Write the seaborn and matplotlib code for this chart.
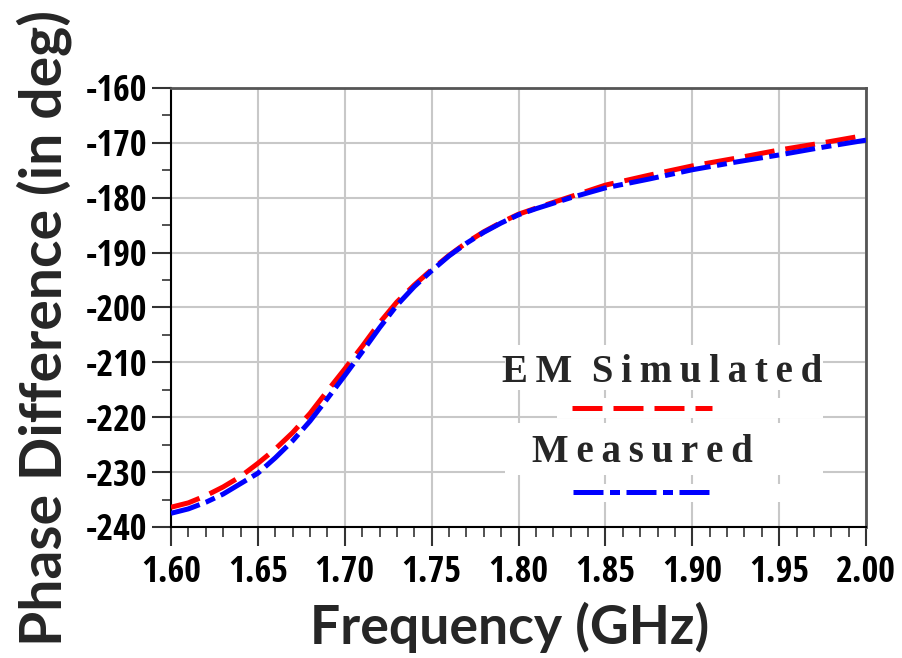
import numpy as np
import pandas as pd
import matplotlib
matplotlib.use("Agg")
import matplotlib.pyplot as plt
from matplotlib.ticker import MultipleLocator, FormatStrFormatter
from matplotlib.lines import Line2D
from matplotlib.patches import Rectangle
import seaborn as sns

# Phase difference vs frequency
freq_sim = [1.600, 1.610, 1.620, 1.630, 1.640, 1.650, 1.660, 1.670, 1.680, 1.690,
            1.700, 1.710, 1.720, 1.730, 1.740, 1.750, 1.760, 1.770, 1.780, 1.790,
            1.800, 1.810, 1.830, 1.850, 1.875, 1.900, 1.925, 1.950, 1.975, 2.000]
phase_sim = [-236.4, -235.6, -234.3, -232.7, -230.8, -228.4, -225.8, -222.8, -219.3, -215.2,
             -211.2, -207.1, -202.8, -199.0, -195.9, -193.1, -190.5, -188.2, -186.2, -184.5,
             -183.0, -181.9, -179.8, -177.7, -175.9, -174.2, -172.8, -171.3, -170.0, -168.6]
freq_meas = [1.600, 1.610, 1.620, 1.630, 1.640, 1.650, 1.660, 1.670, 1.680, 1.690,
             1.700, 1.710, 1.720, 1.730, 1.740, 1.750, 1.760, 1.770, 1.780, 1.790,
             1.800, 1.810, 1.830, 1.850, 1.875, 1.900, 1.925, 1.950, 1.975, 2.000]
phase_meas = [-237.5, -236.7, -235.5, -234.0, -232.1, -230.2, -227.4, -224.3, -220.7, -216.6,
              -212.4, -208.1, -203.7, -199.6, -196.2, -193.3, -190.6, -188.3, -186.3, -184.6,
              -183.1, -182.0, -180.0, -178.2, -176.6, -174.9, -173.5, -172.2, -170.8, -169.5]

x_ticks = [1.60, 1.65, 1.70, 1.75, 1.80, 1.85, 1.90, 1.95, 2.00]
y_ticks = [-240, -230, -220, -210, -200, -190, -180, -170, -160]

sim_label = "E\u2009M  S\u2009i\u2009m\u2009u\u2009l\u2009a\u2009t\u2009e\u2009d"
meas_label = "M\u2009e\u2009a\u2009s\u2009u\u2009r\u2009e\u2009d"

sns.set_theme(style="white")
plt.rcParams["font.family"] = ["Open Sans Condensed", "DejaVu Sans"]
plt.rcParams["axes.unicode_minus"] = False

fig = plt.figure(figsize=(9.03, 6.58), dpi=100)
ax = fig.add_axes([171 / 903, 1 - 527 / 658, 695 / 903, 439 / 658])

df_sim = pd.DataFrame({"f": freq_sim, "p": phase_sim})
df_meas = pd.DataFrame({"f": freq_meas, "p": phase_meas})

sim_dash = (6, 2.2)
meas_dash = (6, 1.3, 2, 1.3)

sns.lineplot(data=df_sim, x="f", y="p", ax=ax, color="#ff0000", lw=3.6, zorder=3)
ax.lines[-1].set_dashes(sim_dash)
sns.lineplot(data=df_meas, x="f", y="p", ax=ax, color="#0000ff", lw=3.6, zorder=4)
ax.lines[-1].set_dashes(meas_dash)

ax.set_xlim(1.60, 2.00)
ax.set_ylim(-240, -160)
ax.set_xticks(x_ticks)
ax.set_yticks(y_ticks)
ax.xaxis.set_major_formatter(FormatStrFormatter("%.2f"))
ax.yaxis.set_major_formatter(FormatStrFormatter("%d"))
ax.xaxis.set_minor_locator(MultipleLocator(0.01))
ax.yaxis.set_minor_locator(MultipleLocator(5))

ax.grid(True, which="major", color="#c8c8c8", lw=1.5, zorder=0)
ax.set_axisbelow(True)

for side in ["left", "bottom"]:
    ax.spines[side].set_color("black")
    ax.spines[side].set_linewidth(1.5)
for side in ["top", "right"]:
    ax.spines[side].set_color("#555555")
    ax.spines[side].set_linewidth(2)

ax.tick_params(axis="x", which="major", direction="out", length=14, width=1.5,
               color="#333333", labelsize=26, labelcolor="black", pad=6, bottom=True)
ax.tick_params(axis="x", which="minor", direction="out", length=7, width=1.2,
               color="#333333", bottom=True)
ax.tick_params(axis="y", which="major", direction="out", length=13.5, width=1.5,
               color="#333333", labelsize=26, labelcolor="black", pad=3.5, left=True)
ax.tick_params(axis="y", which="minor", direction="out", length=6.5, width=1.2,
               color="#333333", left=True)
for lab in ax.get_xticklabels() + ax.get_yticklabels():
    lab.set_fontweight("bold")

ax.set_xlabel("Frequency (GHz)", fontsize=38.5, fontweight="bold",
              family=["Lato", "DejaVu Sans"], va="center")
ax.xaxis.set_label_coords(0.487, -0.228)
ax.set_ylabel("Phase Difference (in deg)", fontsize=41, fontweight="bold",
              family=["Lato", "DejaVu Sans"], va="center")
ax.yaxis.set_label_coords(-0.183, 0.453)

# Legend block: white panels behind each entry, text above its line sample
for x0, y0, w, h in [(0.481, 0.312, 0.457, 0.103),
                     (0.555, 0.248, 0.383, 0.046),
                     (0.481, 0.118, 0.457, 0.119),
                     (0.555, 0.057, 0.383, 0.041)]:
    ax.add_patch(Rectangle((x0, y0), w, h, transform=ax.transAxes,
                           facecolor="white", edgecolor="none", zorder=2))
ax.text(0.707, 0.353, sim_label, transform=ax.transAxes, ha="center", va="center",
        fontsize=28, fontweight="bold", family=["Liberation Serif", "DejaVu Serif"],
        zorder=5)
ax.add_line(Line2D([0.577, 0.778], [0.271, 0.271], transform=ax.transAxes,
                   color="#ff0000", lw=3.6, dashes=sim_dash, zorder=5))
ax.text(0.678, 0.169, meas_label, transform=ax.transAxes, ha="center", va="center",
        fontsize=28, fontweight="bold", family=["Liberation Serif", "DejaVu Serif"],
        zorder=5)
ax.add_line(Line2D([0.579, 0.781], [0.08, 0.08], transform=ax.transAxes,
                   color="#0000ff", lw=3.6, dashes=meas_dash, zorder=5))

ax.set_zorder(1)
fig.savefig("out.png", dpi=100, facecolor="white")
